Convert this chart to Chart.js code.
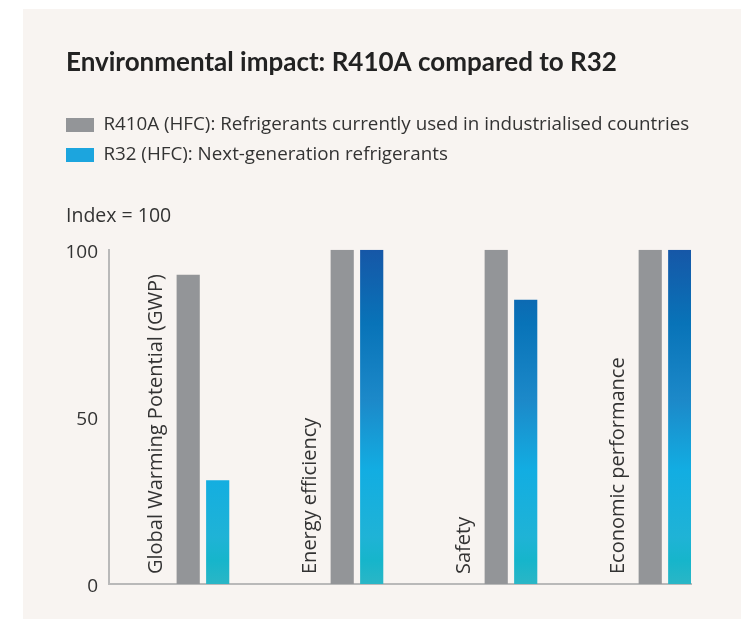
<!DOCTYPE html>
<html lang="en">
<head>
<meta charset="UTF-8" />
<title>Environmental impact: R410A compared to R32</title>
<script src="https://cdn.jsdelivr.net/npm/chart.js"></script>
<style>
  body { margin: 0; background: #fff; }
  #panel { position: absolute; left: 23px; top: 9px; width: 718px; height: 610px; background: #f8f4f1; }
</style>
</head>
<body>
<div id="panel"><canvas id="chart" width="718" height="610"></canvas></div>
<script>
const categories = ['Global Warming Potential (GWP)', 'Energy efficiency', 'Safety', 'Economic performance'];
const seriesNames = [
  'R410A (HFC): Refrigerants currently used in industrialised countries',
  'R32 (HFC): Next-generation refrigerants'
];
const r410aValues = [92.5, 100, 100, 100];
const r32Values = [31, 100, 85, 100];
const yTicks = [0, 50, 100];

const textColor = '#333';

// blue bars share one gradient over the whole plot height
let gradCache = null;
function r32Fill(ctx) {
  const area = ctx.chart.chartArea;
  if (!area) return '#1ba4dd';
  if (gradCache && gradCache.top === area.top && gradCache.bottom === area.bottom) return gradCache.grad;
  const g = ctx.chart.ctx.createLinearGradient(0, area.top, 0, area.bottom);
  g.addColorStop(0, '#1657a7');
  g.addColorStop(0.22, '#0873b8');
  g.addColorStop(0.45, '#1c89c9');
  g.addColorStop(0.66, '#12ade2');
  g.addColorStop(0.86, '#1fb3d6');
  g.addColorStop(0.93, '#16b5cb');
  g.addColorStop(1, '#2ab6c6');
  gradCache = {top: area.top, bottom: area.bottom, grad: g};
  return g;
}

// rotated category names sit just left of each pair of bars
const catLabels = {
  id: 'catLabels',
  afterDatasetsDraw(chart) {
    const {ctx, chartArea, scales: {x}} = chart;
    ctx.save();
    ctx.font = '20px "Open Sans"';
    ctx.fillStyle = textColor;
    ctx.textAlign = 'left';
    ctx.textBaseline = 'alphabetic';
    categories.forEach((c, i) => {
      ctx.save();
      ctx.translate(x.getPixelForValue(i) - 40.5, chartArea.bottom - 10);
      ctx.rotate(-Math.PI / 2);
      ctx.fillText(c, 0, 0);
      ctx.restore();
    });
    ctx.restore();
  }
};

// legend swatches line up with the title instead of being indented
const legendNudge = {
  id: 'legendNudge',
  afterLayout(chart) {
    chart.legend.left -= chart.legend.options.labels.padding;
  }
};

new Chart(document.getElementById('chart'), {
  type: 'bar',
  data: {
    datasets: [
      {
        label: seriesNames[0],
        data: r410aValues.map((v, i) => ({x: i, y: v})),
        backgroundColor: '#939598',
        borderWidth: 0,
        categoryPercentage: 0.383,
        barPercentage: 0.786
      },
      {
        label: seriesNames[1],
        data: r32Values.map((v, i) => ({x: i, y: v})),
        backgroundColor: r32Fill,
        borderWidth: 0,
        categoryPercentage: 0.383,
        barPercentage: 0.786
      }
    ]
  },
  options: {
    responsive: false,
    animation: false,
    layout: { padding: { left: 43, right: 50, top: 15, bottom: 35 } },
    scales: {
      x: {
        type: 'linear',
        offset: false,
        min: -0.61,
        max: 3.169,
        afterBuildTicks: s => { s.ticks = categories.map((c, i) => ({value: i})); },
        ticks: { display: false },
        grid: { display: false, drawTicks: false },
        border: { color: '#b9b9b9', width: 2 }
      },
      y: {
        min: 0,
        max: 100,
        afterBuildTicks: s => { s.ticks = yTicks.map(v => ({value: v})); },
        afterFit: s => { s.width = 43; },
        ticks: {
          padding: 11,
          labelOffset: 3,
          color: textColor,
          font: { family: 'Open Sans', size: 19 }
        },
        grid: { display: false, drawTicks: false },
        border: { color: '#b9b9b9', width: 2 }
      }
    },
    plugins: {
      title: {
        display: true,
        text: 'Environmental impact: R410A compared to R32',
        align: 'start',
        color: '#222',
        font: { family: 'Lato', size: 26, weight: 'bold', lineHeight: 1.2 },
        padding: { top: 23, bottom: 26.5 }
      },
      legend: {
        position: 'top',
        align: 'start',
        labels: {
          boxWidth: 28,
          boxHeight: 14,
          padding: 11,
          color: textColor,
          font: { family: 'Open Sans', size: 18.8 },
          generateLabels(chart) {
            const items = Chart.defaults.plugins.legend.labels.generateLabels(chart);
            items[1].fillStyle = '#1ca5de';
            return items;
          }
        }
      },
      subtitle: {
        display: true,
        text: 'Index = 100',
        align: 'start',
        weight: 500,
        color: textColor,
        font: { family: 'Open Sans', size: 19.5, lineHeight: 1.2 },
        padding: { top: 30, bottom: 22 }
      },
      tooltip: { enabled: false }
    }
  },
  plugins: [catLabels, legendNudge]
});
</script>
</body>
</html>
